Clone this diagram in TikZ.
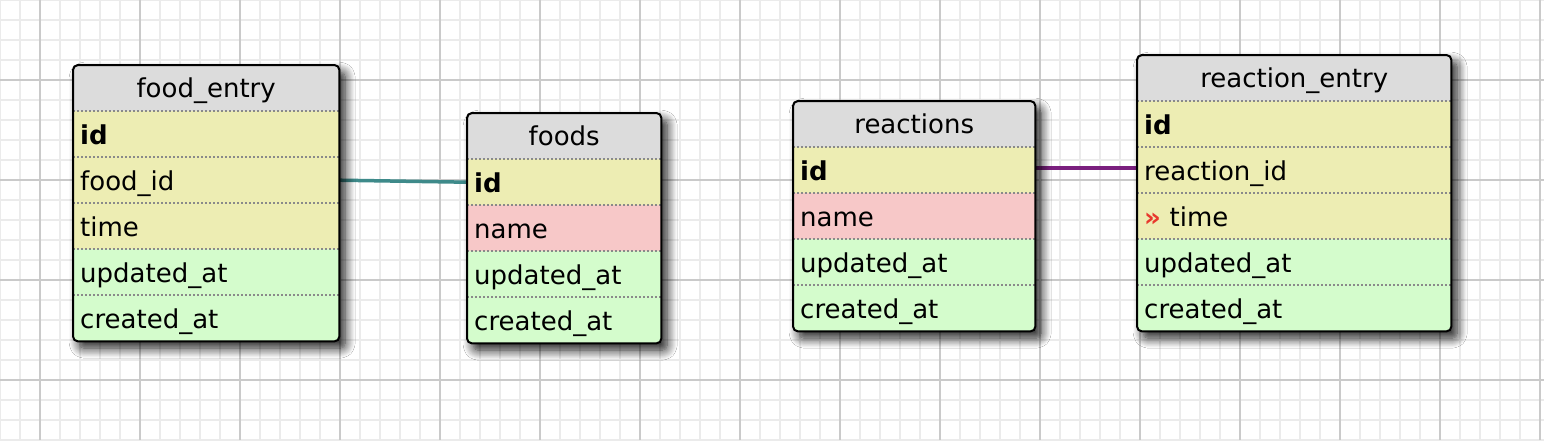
\documentclass[tikz,border=0pt]{standalone}
\usepackage{fontspec}
\setmainfont{DejaVu Sans}
\usetikzlibrary{shadows.blur}
\pgfdeclarelayer{grid}
\pgfdeclarelayer{links}
\pgfsetlayers{grid,links,main}
\definecolor{hdgray}{HTML}{DCDCDC}
\definecolor{keyyellow}{HTML}{EDEDB3}
\definecolor{namepink}{HTML}{F7C8C8}
\definecolor{stampgreen}{HTML}{D4FCCC}
\definecolor{dotgray}{HTML}{8A8A8A}
\definecolor{linkteal}{HTML}{3E8A8A}
\definecolor{linkpurple}{HTML}{7A1F7E}
\definecolor{chevred}{HTML}{E8382C}
\definecolor{minorline}{HTML}{EBEBEB}
\definecolor{majorline}{HTML}{CACACA}
\tikzset{
  tbl/.style={anchor=north west, inner sep=0pt, fill=hdgray, rounded corners=5pt,
    blur shadow={shadow xshift=6pt, shadow yshift=-7pt, shadow blur radius=10pt,
      shadow blur steps=12, shadow opacity=90}},
  tblline/.style={draw=black, line width=2pt, rounded corners=5pt},
  tblhead/.style={anchor=north west, inner xsep=7pt, inner ysep=0pt, minimum height=46pt,
    text height=19pt, text depth=0pt, align=center},
  field/.style={anchor=north west, inner xsep=7pt, inner ysep=0pt, minimum height=46pt,
    text height=21pt, text depth=0pt, align=left},
  pkey/.style={field, fill=keyyellow},
  fkey/.style={field, fill=keyyellow},
  namefield/.style={field, fill=namepink},
  stamp/.style={field, fill=stampgreen},
  sep/.style={draw=dotgray, line width=2pt, dash pattern=on 2pt off 2pt},
  teallink/.style={draw=linkteal, line width=3.5pt},
  purplelink/.style={draw=linkpurple, line width=3.5pt}
}
\begin{document}
\begin{tikzpicture}[x=1pt, y=-1pt, font=\fontsize{26pt}{31pt}\selectfont]
\useasboundingbox (0,0) rectangle (1544,440);

% food_entry
\node[tbl, minimum width=266pt, minimum height=276pt] (fe) at (73,65) {};
\begin{scope}[nodes={text width=252pt}]
  \clip[rounded corners=5pt] (fe.north west) rectangle (fe.south east);
  \node[tblhead] (fe0) at (73,65) {food\_entry};
  \node[pkey] (fe1) at (73,111) {\bfseries id};
  \node[fkey] (fe2) at (73,157) {food\_id};
  \node[fkey] (fe3) at (73,203) {time};
  \node[stamp] (fe4) at (73,249) {updated\_at};
  \node[stamp] (fe5) at (73,295) {created\_at};
  \foreach \r in {fe1,fe2,fe3,fe4,fe5} \draw[sep] (\r.north west) -- (\r.north east);
\end{scope}
\draw[tblline] (fe.north west) rectangle (fe.south east);

% foods
\node[tbl, minimum width=194pt, minimum height=230pt] (fd) at (467,113) {};
\begin{scope}[nodes={text width=180pt}]
  \clip[rounded corners=5pt] (fd.north west) rectangle (fd.south east);
  \node[tblhead] (fd0) at (467,113) {foods};
  \node[pkey] (fd1) at (467,159) {\bfseries id};
  \node[namefield] (fd2) at (467,205) {name};
  \node[stamp] (fd3) at (467,251) {updated\_at};
  \node[stamp] (fd4) at (467,297) {created\_at};
  \foreach \r in {fd1,fd2,fd3,fd4} \draw[sep] (\r.north west) -- (\r.north east);
\end{scope}
\draw[tblline] (fd.north west) rectangle (fd.south east);

% reactions
\node[tbl, minimum width=242pt, minimum height=230pt] (rc) at (793,101) {};
\begin{scope}[nodes={text width=228pt}]
  \clip[rounded corners=5pt] (rc.north west) rectangle (rc.south east);
  \node[tblhead] (rc0) at (793,101) {reactions};
  \node[pkey] (rc1) at (793,147) {\bfseries id};
  \node[namefield] (rc2) at (793,193) {name};
  \node[stamp] (rc3) at (793,239) {updated\_at};
  \node[stamp] (rc4) at (793,285) {created\_at};
  \foreach \r in {rc1,rc2,rc3,rc4} \draw[sep] (\r.north west) -- (\r.north east);
\end{scope}
\draw[tblline] (rc.north west) rectangle (rc.south east);

% reaction_entry
\node[tbl, minimum width=314pt, minimum height=276pt] (re) at (1137,55) {};
\begin{scope}[nodes={text width=300pt}]
  \clip[rounded corners=5pt] (re.north west) rectangle (re.south east);
  \node[tblhead] (re0) at (1137,55) {reaction\_entry};
  \node[pkey] (re1) at (1137,101) {\bfseries id};
  \node[fkey] (re2) at (1137,147) {reaction\_id};
  \node[fkey] (re3) at (1137,193) {{\color{chevred}\bfseries »}\ time};
  \node[stamp] (re4) at (1137,239) {updated\_at};
  \node[stamp] (re5) at (1137,285) {created\_at};
  \foreach \r in {re1,re2,re3,re4,re5} \draw[sep] (\r.north west) -- (\r.north east);
\end{scope}
\draw[tblline] (re.north west) rectangle (re.south east);

% relations, under the shadows
\begin{pgfonlayer}{links}
  \path[teallink] (fe2.east) edge (fd1.west);
  \path[purplelink] ([yshift=2pt]rc1.east) edge ([yshift=2pt]re2.west);
\end{pgfonlayer}

% squared paper, drawn last (shadows use nested pictures)
\begin{pgfonlayer}{grid}
  \fill[white] (0,0) rectangle (1544,440);
  \draw[minorline, line width=1.6pt, step=20pt] (0,440) grid (1544,0);
  \draw[majorline, line width=1.8pt, step=100pt, shift={(40,80)}] (-40,360) grid (1504,-80);
\end{pgfonlayer}
\end{tikzpicture}
\end{document}
